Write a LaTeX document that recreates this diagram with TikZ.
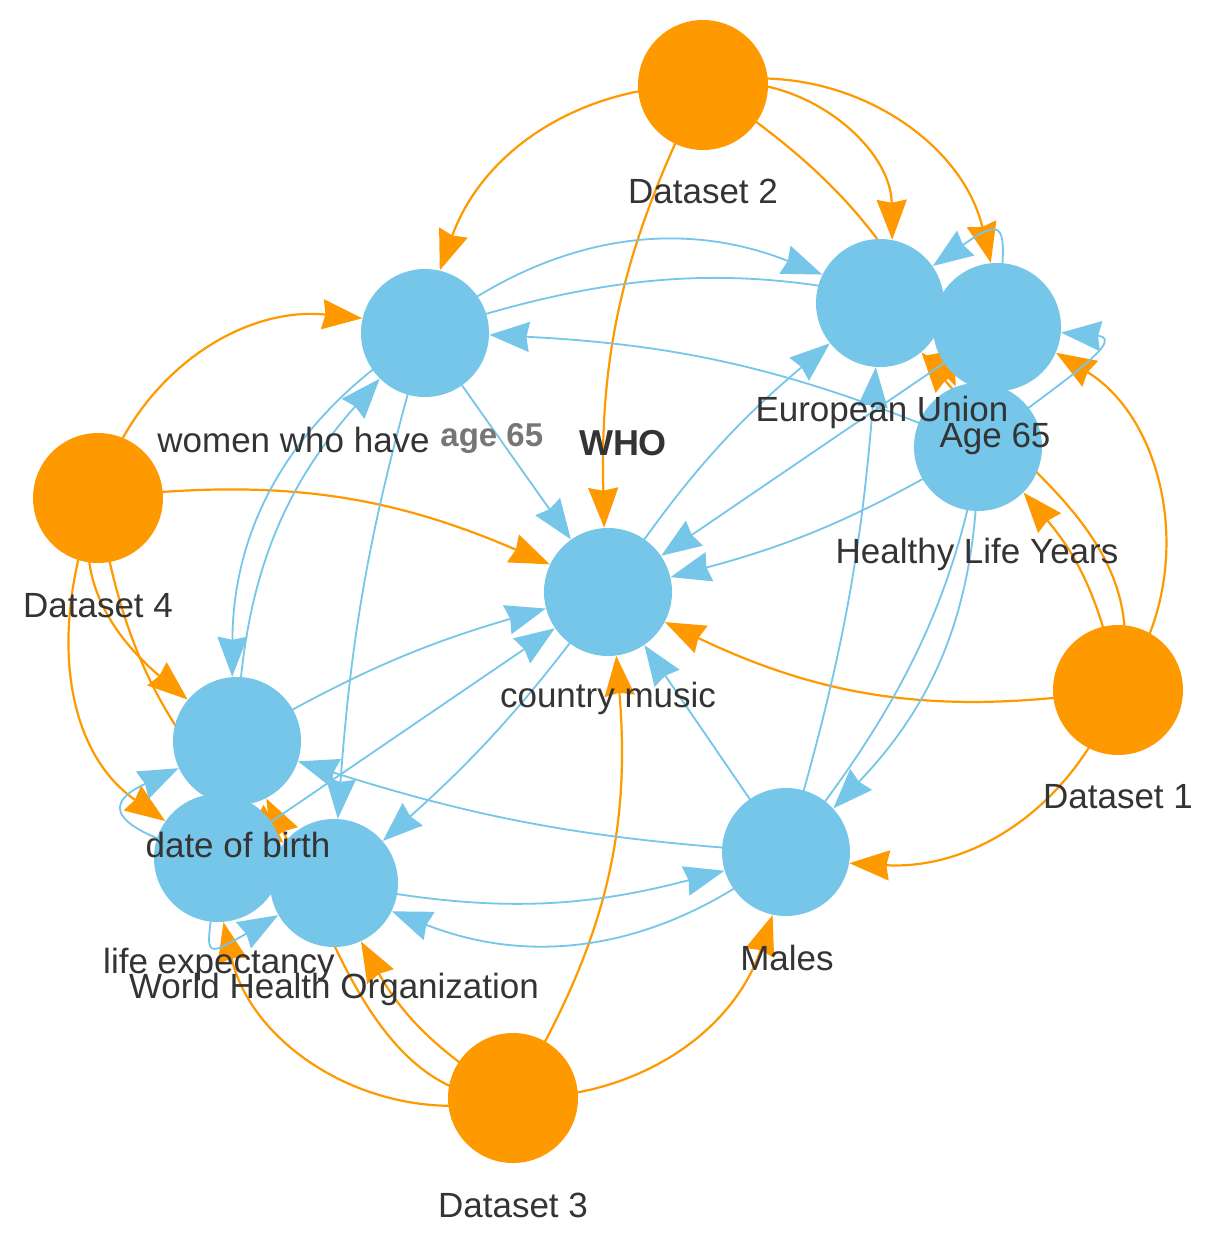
\documentclass[tikz,border=0pt]{standalone}
\usepackage{fontspec}
\setmainfont{Liberation Sans}
\usetikzlibrary{arrows.meta}
\pgfdeclarelayer{edges}
\pgfdeclarelayer{labels}
\pgfsetlayers{edges,main,labels}
\definecolor{dsorange}{RGB}{255,153,0}
\definecolor{entblue}{RGB}{117,198,233}
\definecolor{txt}{RGB}{52,52,52}
\definecolor{txtgray}{RGB}{118,118,118}
\begin{document}
\begin{tikzpicture}[x=0.5pt,y=-0.5pt,
  dsnode/.style={circle,fill=dsorange,inner sep=0pt,minimum size=65pt},
  entnode/.style={circle,fill=entblue,inner sep=0pt,minimum size=64pt},
  lbl/.style={anchor=base,text=txt,font=\fontsize{17.5}{21}\selectfont,inner sep=0pt},
  tipshape/.style={-{Stealth[length=20pt,width=15pt,inset=1.5pt]}},
  oedge/.style={draw=dsorange,line width=1.1pt,tipshape},
  bedge/.style={draw=entblue,line width=0.9pt,tipshape}]
\useasboundingbox (0,0) rectangle (1213,1252);
% nodes
\node[dsnode] (D2) at (703,85) {};
\node[dsnode] (D4) at (98,498) {};
\node[dsnode] (D1) at (1118,690) {};
\node[dsnode] (D3) at (513,1098) {};
\node[entnode] (W) at (425,333) {};
\node[entnode] (A65) at (997,327) {};
\node[entnode] (EU) at (880,303) {};
\node[entnode] (HLY) at (978,447) {};
\node[entnode] (CM) at (608,592) {};
\node[entnode] (DOB) at (237,741) {};
\node[entnode] (LE) at (218,858) {};
\node[entnode] (WHO) at (334,883) {};
\node[entnode] (M) at (786,852) {};
\begin{pgfonlayer}{edges}
\fill[white] (0,0) rectangle (1213,1252);
% dataset edges
\draw[oedge] (D2.center) to[bend right=35] (W);
\draw[oedge] (D2.center) to[bend right=14] (CM);
\draw[oedge] (D2.center) to[bend left=50] (EU);
\draw[oedge] (D2.center) to[bend left=17] (HLY);
\draw[oedge] (D2.center) to[bend left=45] (A65);
\draw[oedge] (D1.center) to[bend left=17] (CM);
\draw[oedge] (D1.center) to[bend left=36] (M);
\draw[oedge] (D1.center) to[bend right=15] (HLY);
\draw[oedge] (D1.center) to[bend right=48] (A65);
\draw[oedge] (D1.center) to[out=75,in=-50] (EU);
\draw[oedge] (D3.center) to[bend right=18] (CM);
\draw[oedge] (D3.center) to[bend right=36] (M);
\draw[oedge] (D3.center) to[bend left=15] (WHO);
\draw[oedge] (D3.center) to[bend left=46] (LE);
\draw[oedge] (D3.center) to[out=183,in=-63,looseness=0.9] (DOB);
\draw[oedge] (D4.center) to[bend left=40] (W);
\draw[oedge] (D4.center) to[bend left=15] (CM);
\draw[oedge] (D4.center) to[out=-112,in=140] (DOB);
\draw[oedge] (D4.center) to[bend right=20] (WHO);
\draw[oedge] (D4.center) to[out=-112,in=145] (LE);
% entity edges
\draw[bedge] (W.center) to[bend left=30] (EU);
\draw[bedge] (W.center) to[bend left=16] (A65);
\draw[bedge] (HLY.center) to[bend right=10] (W);
\draw[bedge] (W.center) -- (CM);
\draw[bedge] (W.center) to[bend right=29] (DOB);
\draw[bedge] (DOB.center) to[bend left=20] (W);
\draw[bedge] (W.center) to[bend right=6] (WHO);
\draw[bedge] (HLY.center) to[bend left=8] (CM);
\draw[bedge] (A65.center) -- (CM);
\draw[bedge] (CM.center) to[bend left=8] (EU);
\draw[bedge] (M.center) to[bend right=6] (EU);
\draw[bedge] (HLY.center) to[bend left=22] (M);
\draw[bedge] (M.center) to[bend right=15] (A65);
\draw[bedge] (M.center) -- (CM);
\draw[bedge] (M.center) to[bend left=7] (DOB);
\draw[bedge] (WHO.center) to[bend right=13] (M);
\draw[bedge] (M.center) to[bend left=30] (WHO);
\draw[bedge] (DOB.center) to[bend left=7] (CM);
\draw[bedge] (LE.center) -- (CM);
\draw[bedge] (CM.center) to[bend left=6] (WHO);
\draw[bedge] (LE.center) to[out=165,in=205,looseness=2.5] (DOB);
\draw[bedge] (LE.center) to[out=-95,in=210,looseness=3] (WHO);
\draw[bedge] (A65.center) to[out=85,in=35,looseness=2.8] (EU);
\draw[bedge] (HLY.center) to[out=40,in=-5,looseness=1.3] (A65);
\end{pgfonlayer}
\begin{pgfonlayer}{labels}
\node[lbl] (tD2) at (703,203) {Dataset 2};
\node[lbl] (tD4) at (98,617) {Dataset 4};
\node[lbl] (tD1) at (1118,808) {Dataset 1};
\node[lbl] (tD3) at (513,1217) {Dataset 3};
\node[lbl,anchor=base west] (tW) at (157,452) {women who have};
\node[lbl,anchor=base west,text=txtgray,font=\fontsize{16.5}{19}\selectfont\bfseries] (tW2) at (440,446) {age 65};
\node[lbl,font=\fontsize{18}{21}\selectfont\bfseries] (tWHOlbl) at (623,455) {WHO};
\node[lbl] (tEU) at (882,421) {European Union};
\node[lbl] (tA65) at (995,447) {Age 65};
\node[lbl] (tHLY) at (977,563) {Healthy Life Years};
\node[lbl] (tCM) at (608,707) {country music};
\node[lbl] (tDOB) at (238,857) {date of birth};
\node[lbl] (tLE) at (219,973) {life expectancy};
\node[lbl] (tWHO) at (334,998) {World Health Organization};
\node[lbl] (tM) at (787,970) {Males};
\end{pgfonlayer}
\end{tikzpicture}
\end{document}
